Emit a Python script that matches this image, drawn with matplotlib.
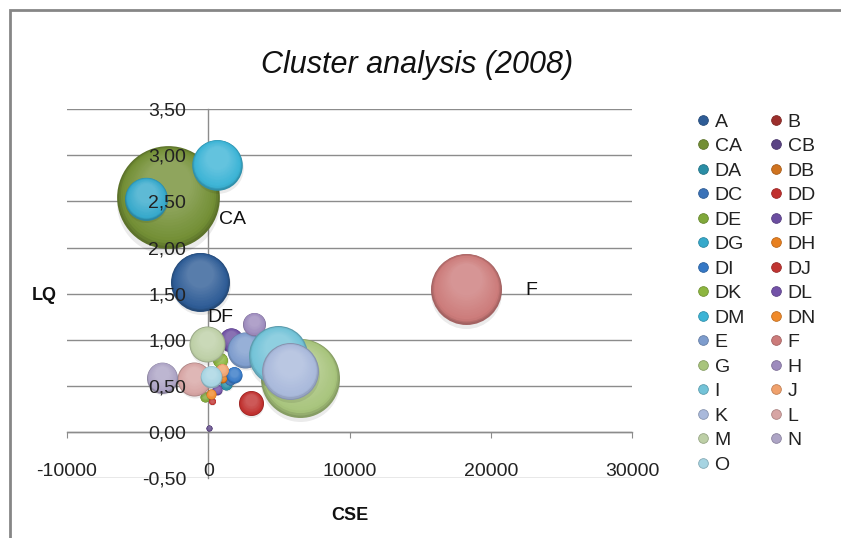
import numpy as np
import matplotlib
matplotlib.use("Agg")
import matplotlib.pyplot as plt
from matplotlib.lines import Line2D
from matplotlib.patches import Rectangle
from matplotlib.transforms import offset_copy
import matplotlib.colors as mcolors

plt.rcParams['font.family'] = ['Liberation Sans', 'DejaVu Sans']

# ---------------- data ----------------
series = ["A", "B", "CA", "CB", "DA", "DB", "DC", "DD", "DE", "DF", "DG", "DH",
          "DI", "DJ", "DK", "DL", "DM", "DN", "E", "F", "G", "H", "I", "J",
          "K", "L", "M", "N", "O"]
cse = [-560, 500, -2850, 35, 1275, 280, 1560, 3010, -210, 1630, -4425, 990,
       1805, 250, 850, 640, 640, 180, 2620, 18230, 6480, 3220, 4920, 955,
       5805, -990, -70, -3290, 210]
lq = [1.63, 0.65, 2.55, 0.04, 0.52, 0.57, 0.57, 0.31, 0.38, 1.00, 2.53, 0.59,
      0.62, 0.33, 0.78, 0.46, 2.90, 0.41, 0.89, 1.55, 0.59, 1.17, 0.83, 0.67,
      0.66, 0.57, 0.95, 0.59, 0.60]
bubble_size = [870, 25, 2640, 9, 36, 25, 36, 156, 25, 144, 462, 25,
               64, 12, 56, 25, 640, 25, 324, 1260, 1560, 132, 870, 42,
               812, 289, 324, 240, 117]
colors = ["#2E5C96", "#9C2F2C", "#738F35", "#5B4484", "#2A8EA6", "#D0731F",
          "#3A72B8", "#C0302E", "#80A83A", "#6B4DA0", "#36A9CB", "#E8801F",
          "#3578C6", "#C13532", "#8DB63F", "#7352A8", "#3CB4D6", "#F08A2A",
          "#7D9CCD", "#CC7B7A", "#A8C47C", "#9D8BBD", "#73C3D8", "#F0A16C",
          "#A9B9DB", "#D7A5A4", "#BDCFA6", "#ADA4C5", "#A6D4E2"]
labelled = {"CA": (37, -16), "F": (43, -1), "DF": (-17, 16)}

x_ticks = [-10000, 0, 10000, 20000, 30000]
x_tick_labels = ["-10000", "0", "10000", "20000", "30000"]
y_ticks = [-0.5, 0.0, 0.5, 1.0, 1.5, 2.0, 2.5, 3.0, 3.5]
y_tick_labels = ["-0,50", "0,00", "0,50", "1,00", "1,50", "2,00", "2,50", "3,00", "3,50"]

# ---------------- figure ----------------
W, H = 841, 538
fig = plt.figure(figsize=(W / 100, H / 100), dpi=100)
fig.patch.set_facecolor("white")
fig.patches.append(Rectangle((10 / W, -0.05), 1.2, 1 - 10 / H + 0.05,
                             transform=fig.transFigure, fill=False,
                             edgecolor="#868686", lw=2))

ax = fig.add_axes([67 / W, 1 - 478 / H, (632 - 67) / W, (478 - 109.3) / H])
ax.set_xlim(-10000, 30000)
ax.set_ylim(-0.5, 3.5)
ax.set_facecolor("none")

grid_c = "#8C8C8C"
for s in ["top", "right"]:
    ax.spines[s].set_visible(False)
ax.spines["left"].set_position(("data", 0))
ax.spines["bottom"].set_position(("data", 0))
for s in ["left", "bottom"]:
    ax.spines[s].set_color(grid_c)
    ax.spines[s].set_linewidth(1)
    ax.spines[s].set_zorder(1.5)

ax.set_yticks(y_ticks)
ax.set_yticklabels(y_tick_labels)
ax.set_xticks(x_ticks)
ax.set_xticklabels(x_tick_labels)
ax.tick_params(axis="y", length=0, pad=16, labelsize=14, labelcolor="#222222")
ax.tick_params(axis="x", direction="out", length=4.5, color=grid_c, pad=18,
               labelsize=14, labelcolor="#222222")
# gridlines below the bubbles, tick labels above them
for yv in y_ticks:
    ax.axhline(yv, color=grid_c, lw=1, zorder=1)
ax.xaxis.set_zorder(30)
ax.yaxis.set_zorder(30)


def shade(c, f):
    r, g, b = mcolors.to_rgb(c)
    if f < 1:
        return (r * f, g * f, b * f)
    t = f - 1
    return (r + (1 - r) * t, g + (1 - g) * t, b + (1 - b) * t)


n_layers = 16
for i, name in enumerate(series):
    x, y, sz, c = cse[i], lq[i], bubble_size[i], colors[i]
    d = 1.44 * np.sqrt(sz)  # diameter in points
    z = 3 + i * 0.1
    # soft shadow
    sh = offset_copy(ax.transData, fig=fig, x=0.3, y=-0.06 * d, units="points")
    ax.plot([x], [y], "o", ms=d, color="#000000", alpha=0.08,
            mec="none", transform=sh, zorder=z)
    # sphere-like shading
    for k in range(n_layers):
        t = k / (n_layers - 1)
        dk = d * (1 - 0.55 * t)
        if t < 0.15:
            col = shade(c, 0.8 + 0.2 * t / 0.15)
        else:
            col = shade(c, 1 + 0.2 * (t - 0.15) / 0.85)
        dy = (d - dk) / 2 * 0.5
        tr = offset_copy(ax.transData, fig=fig, x=0, y=dy, units="points")
        ax.plot([x], [y], "o", ms=dk, color=col, mec="none",
                transform=tr, zorder=z + 0.001 * (k + 1))
    if name in labelled:
        dx, dyl = labelled[name]
        ax.annotate(name, (x, y), xytext=(dx, dyl), textcoords="offset points",
                    ha="left", va="center", fontsize=14, color="#111111",
                    zorder=40)

# axis titles
fig.text(44.5 / W, 1 - 295 / H, "LQ", fontsize=13, fontweight="bold",
         ha="center", va="center", color="#111111")
fig.text(349.5 / W, 1 - 515.5 / H, "CSE", fontsize=13, fontweight="bold",
         ha="center", va="center", color="#111111")
fig.text(417 / W, 1 - 65 / H, "Cluster analysis (2008)", fontsize=22,
         style="italic", ha="center", va="center", color="#111111")

# legend (row-major order in two columns)
handles = [Line2D([], [], ls="none", marker="o", ms=7, color=colors[i],
                  mec=shade(colors[i], 0.8), mew=0.6) for i in range(len(series))]
order = list(range(0, len(series), 2)) + list(range(1, len(series), 2))
leg = fig.legend([handles[i] for i in order], [series[i] for i in order],
                 ncol=2, loc="upper left", bbox_to_anchor=(697 / W, 1 - 113 / H),
                 frameon=False, fontsize=14, handlelength=0.6,
                 handletextpad=0.3, columnspacing=1.3, labelspacing=0.355,
                 borderpad=0, borderaxespad=0)
for t in leg.get_texts():
    t.set_color("#222222")

fig.savefig("out.png", dpi=100)
